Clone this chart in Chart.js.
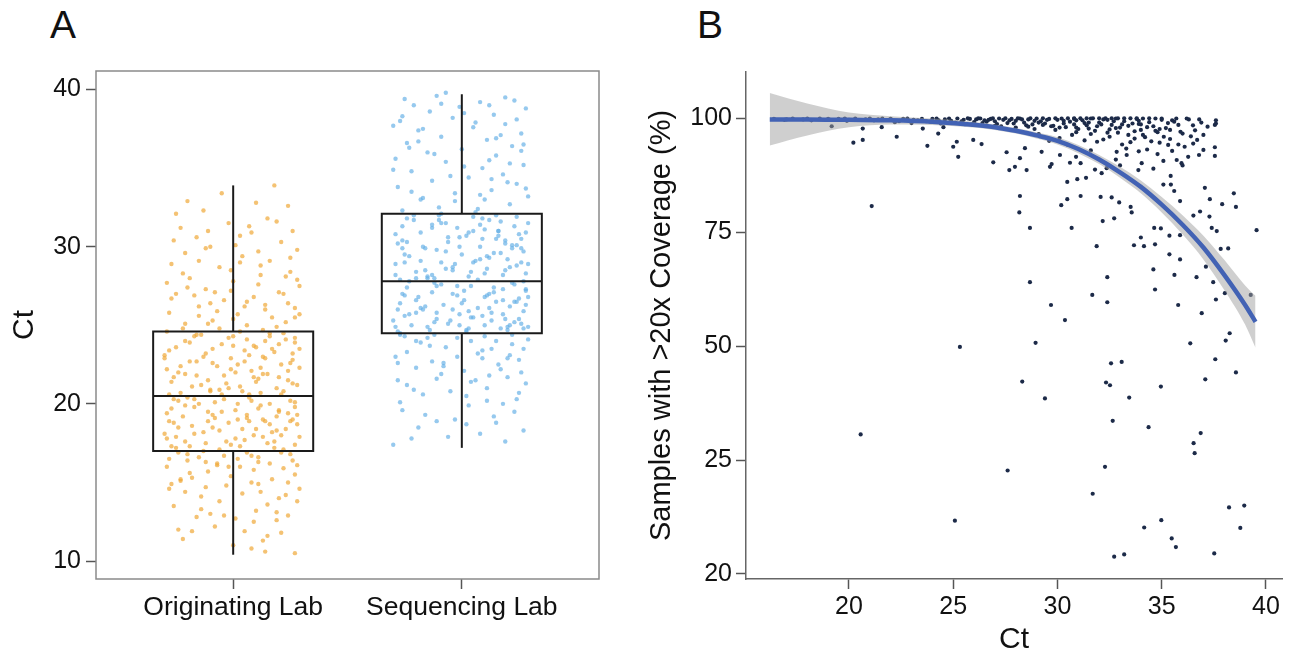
<!DOCTYPE html>
<html>
<head>
<meta charset="utf-8">
<script src="https://cdn.jsdelivr.net/npm/chart.js@4"></script>
<style>
  body { margin: 0; background: #fff; width: 1292px; height: 657px; overflow: hidden; position: relative; font-family: "Liberation Sans", Arial, sans-serif; }
  .panel { position: absolute; top: 0; }
  .tag { position: absolute; top: 5px; font-size: 39px; line-height: 1; color: #111; }
</style>
</head>
<body>
<div class="tag" style="left:50px">A</div>
<div class="tag" style="left:697px">B</div>
<div class="panel" style="left:0"><canvas id="boxChart" width="640" height="657"></canvas></div>
<div class="panel" style="left:640px"><canvas id="ctChart" width="652" height="657"></canvas></div>
<script>
Chart.defaults.font.family = '"Liberation Sans", Arial, sans-serif';
Chart.defaults.color = '#111';

// ---- Panel A: Ct by lab ----
const labs = ['Originating Lab', 'Sequencing Lab'];
const boxLow = [10.4, 17.2];
const boxQ1 = [17.0, 24.5];
const boxMedian = [20.5, 27.8];
const boxQ3 = [24.6, 32.1];
const boxHigh = [33.9, 39.7];
const ctTicks = [10, 20, 30, 40];

// [jitter in % of a category, Ct]
const originatingPoints = [
  [-22,11.4],[14,10.6],[27,10.5],[-8,12.2],[5,11.9],[19,12.6],[-26,13.5],[-14,14.1],[10,13.2],[24,12.9],
  [-3,14.8],[-18,15.3],[8,15.0],[29,14.6],[-29,16.0],[-11,15.7],[16,16.2],[2,16.5],[-20,16.8],[22,15.9],
  [-6,13.8],[12,14.4],[-24,12.0],[26,16.4],[-15,16.6],[6,16.9],[-1,15.4],[20,14.0],[-27,14.9],[13,11.3],
  [-10,13.0],[28,13.8],[-19,15.6],[3,16.0],[17,15.2],[-12,16.3],[25,16.8],[-4,16.7],[9,12.5],[-23,15.1],
  [0,11.0],[-16,12.8],[21,11.8],[-28,16.5],[11,16.6],[-7,16.2],[15,13.6],[-21,14.4],[27,15.5],[4,14.3],
  [-25,17.2],[-12,17.5],[3,17.3],[18,17.6],[29,17.9],[-30,18.1],[-6,18.3],[9,18.0],[23,18.4],[-18,18.6],
  [-2,18.8],[14,18.9],[26,19.0],[-22,19.2],[-9,19.3],[6,19.1],[20,19.5],[-27,19.7],[1,19.6],[12,19.9],
  [-15,20.0],[27,20.1],[-4,20.3],[8,20.2],[-20,20.4],[16,20.0],[-29,17.8],[22,17.1],[-11,18.9],[5,17.7],
  [-24,18.5],[10,18.4],[-1,17.4],[19,19.2],[-17,19.8],[28,18.7],[-8,20.1],[13,17.9],[-26,20.3],[24,19.4],
  [-13,17.0],[2,19.0],[17,18.2],[-21,17.6],[7,20.4],[-5,19.5],[25,20.2],[-28,18.9],[11,19.7],[21,18.0],
  [-23,20.7],[-10,20.9],[4,20.8],[19,21.0],[28,21.2],[-27,21.4],[-3,21.3],[11,21.6],[24,21.5],[-16,21.8],
  [1,22.0],[15,21.9],[-29,22.2],[-7,22.4],[8,22.1],[21,22.5],[-19,22.7],[26,22.8],[-1,22.9],[13,23.0],
  [-12,23.2],[5,23.4],[18,23.3],[-25,23.6],[29,23.5],[-5,23.8],[9,23.7],[-21,24.0],[23,24.1],[0,24.3],
  [-14,24.4],[16,24.5],[-28,20.6],[7,20.6],[-9,22.6],[27,23.9],[-18,21.1],[12,22.3],[-2,24.2],[20,21.7],
  [-24,22.0],[3,21.1],[14,24.0],[-11,21.5],[25,22.6],[-30,23.1],[10,23.6],[-6,20.9],[22,20.8],[-17,24.3],
  [-22,24.8],[6,25.0],[19,24.9],[-9,25.3],[27,25.5],[-28,25.8],[2,25.7],[14,26.0],[-15,26.2],[24,26.4],
  [-4,26.6],[9,26.8],[-25,27.0],[20,27.1],[-12,27.3],[29,27.5],[0,27.8],[-19,28.0],[12,28.2],[25,28.4],
  [-6,28.7],[-27,28.9],[16,29.1],[4,29.4],[-21,29.6],[28,29.8],[-10,30.0],[21,30.3],[-16,30.6],[8,30.9],
  [-23,31.2],[26,31.0],[-2,31.5],[15,31.8],[-13,32.3],[24,32.6],[-20,32.9],[18,33.9],[11,27.6],[-7,25.9],
  [23,25.2],[-17,26.9],[3,29.0],[-26,30.4],[13,24.7],[-1,28.5],[27,26.1],[-11,25.1],[7,31.3],[-29,27.7],
  [-27,17.3],[-13,18.2],[1,17.8],[16,18.7],[28,19.3],[-21,19.9],[-5,20.6],[10,21.4],[24,22.1],[-30,22.9],
  [-9,23.5],[6,24.1],[20,19.6],[-24,20.2],[-2,21.0],[13,21.9],[26,23.2],[-16,24.4],[4,18.4],[18,17.2],
  [-7,16.1],[-23,15.2],[9,15.8],[23,14.2],[-14,13.3],[1,12.7],[15,11.6],[-28,14.6],[27,17.4],[-11,19.5],
  [5,22.7],[-19,23.9],[21,20.6],[-3,17.6],[12,20.7],[-26,21.7],[29,22.3],[-8,19.1],[7,23.1],[-17,18.1],
  [14,26.3],[-1,27.2],[-22,28.3],[25,29.3],[-12,29.9],[3,30.7],[19,31.6],[-25,32.1],[10,32.8],[-5,33.4],
  [-29,24.6],[17,25.5],[-15,25.6],[6,26.5],[28,27.9],[-20,27.4],[0,25.4],[22,27.0],[-10,26.4],[11,29.7],
  [-26,18.8],[-14,21.2],[2,22.5],[17,23.5],[27,24.2],[-20,16.4],[-6,17.1],[8,16.7],[21,16.9],[-29,19.4],
  [-10,20.8],[6,19.3],[19,18.3],[-23,22.4],[0,23.7],[14,22.9],[26,21.3],[-17,20.3],[3,24.6],[16,24.3],
  [-12,14.7],[11,14.9],[-25,17.9],[24,15.0],[-4,12.9],[19,13.1],[-18,11.9],[8,10.8],[-2,16.0],[28,16.1],
  [-27,26.7],[12,28.8],[-8,27.1],[23,28.1],[-15,29.1],[5,26.2],[-21,25.1],[29,25.7],[1,30.1],[-11,31.0],
  [-9,18.5],[13,19.0],[-21,21.9],[25,18.9],[-4,21.8],[9,21.7],[-16,22.7],[20,23.8],[-28,23.4],[2,20.0],
  [15,17.5],[-6,24.8],[27,19.8],[-19,17.3],[7,18.9],[-13,23.0],[22,24.5],[-1,22.2],[11,16.3],[-24,16.9]
];

const sequencingPoints = [
  [-30,17.4],[-22,17.8],[19,17.6],[8,18.1],[27,18.3],[-11,18.9],[14,19.2],[-26,19.6],[3,19.9],[24,20.3],
  [-17,20.6],[-5,20.8],[11,21.0],[28,21.3],[-28,21.5],[20,21.7],[-9,21.9],[1,22.1],[-20,22.3],[16,22.5],
  [-13,22.7],[25,22.8],[-2,23.0],[7,23.2],[-24,23.3],[13,23.5],[-7,23.6],[22,23.8],[-18,23.9],[4,24.0],
  [29,24.1],[-15,24.2],[10,24.3],[-27,24.4],[18,20.0],[-3,19.0],[26,22.0],[-21,20.9],[6,21.5],[-12,24.4],
  [23,19.5],[-29,23.0],[15,24.0],[-8,22.4],[2,20.5],[-19,18.5],[21,23.1],[9,22.9],[-25,24.3],[12,21.8],
  [-28,24.6],[-14,24.7],[2,24.6],[17,24.8],[29,24.9],[-22,25.0],[-6,25.1],[10,25.0],[23,25.2],[-30,25.3],
  [-11,25.4],[5,25.5],[19,25.4],[-25,25.6],[-1,25.7],[13,25.8],[27,25.9],[-17,26.0],[7,26.1],[21,26.2],
  [-8,26.3],[-27,26.4],[15,26.5],[1,26.6],[25,26.7],[-19,26.8],[11,26.9],[-4,27.0],[-13,27.1],[28,27.2],
  [18,27.3],[-24,27.4],[4,27.5],[-9,27.6],[22,27.7],[-29,24.9],[9,25.6],[-16,26.2],[26,25.1],[-2,26.9],
  [14,27.4],[-20,25.8],[3,24.8],[24,26.5],[-12,27.7],[20,24.7],[-26,27.0],[12,26.1],[-5,25.3],[29,26.8],
  [-27,27.9],[-12,28.0],[3,28.1],[18,28.2],[28,28.3],[-20,28.4],[-4,28.5],[11,28.6],[24,28.8],[-29,28.9],
  [-9,29.0],[6,29.1],[20,29.2],[-23,29.4],[0,29.5],[14,29.6],[27,29.7],[-16,29.9],[8,30.0],[22,30.1],
  [-6,30.3],[-26,30.4],[15,30.5],[2,30.7],[25,30.8],[-18,30.9],[10,31.1],[-2,31.2],[-13,31.4],[29,31.5],
  [17,31.6],[-24,31.8],[5,31.9],[-10,32.0],[21,28.7],[-28,30.2],[12,29.3],[-15,28.1],[26,29.9],[-1,30.6],
  [16,31.0],[-21,31.7],[4,28.4],[23,31.3],[-11,29.8],[19,30.4],[-25,29.0],[9,31.8],[-7,28.6],[28,30.9],
  [-26,32.3],[-10,32.5],[7,32.4],[21,32.7],[-18,33.0],[29,33.2],[-3,33.4],[13,33.6],[-28,33.8],[24,34.0],
  [-13,34.2],[3,34.4],[18,34.6],[-22,34.8],[9,35.0],[27,35.2],[-7,35.4],[-29,35.6],[15,35.8],[-15,36.0],
  [0,36.2],[22,36.4],[-24,36.6],[11,36.8],[-9,37.0],[26,37.2],[-19,37.4],[5,37.6],[19,37.8],[-27,38.0],
  [-4,38.2],[14,38.4],[-14,38.6],[28,38.8],[-21,39.0],[8,39.2],[-25,39.4],[-11,39.6],[23,39.3],[-7,39.8],
  [26,36.1],[-17,33.1],[1,35.1],[17,37.1],[-30,37.7],[10,33.0],[-1,38.9],[20,34.1],[-23,36.3],[12,39.0],
  [-27,24.5],[-12,25.2],[3,25.9],[18,26.6],[28,27.3],[-20,28.0],[-4,28.7],[11,29.4],[24,30.1],[-29,30.8],
  [-9,31.5],[6,32.2],[20,24.9],[-23,25.7],[0,26.4],[14,27.1],[27,27.8],[-16,28.5],[8,29.2],[22,29.9],
  [-6,30.6],[-26,31.3],[15,32.0],[2,24.7],[25,25.4],[-18,26.1],[10,26.8],[-2,27.5],[-13,28.2],[29,28.9],
  [17,29.6],[-24,30.3],[5,31.0],[-10,31.7],[21,25.0],[-28,26.0],[12,27.0],[-15,28.0],[26,29.0],[-1,30.0],
  [16,31.0],[-21,32.0],[4,25.5],[23,26.5],[-11,27.5],[19,28.5],[-25,29.5],[9,30.5],[-7,31.5],[28,26.3],
  [-22,33.5],[-5,34.5],[12,35.5],[27,36.5],[-17,37.5],[1,38.5],[19,39.5],[-30,34.9],[8,33.3],[24,38.1],
  [-12,35.9],[15,36.9],[-26,38.3],[-3,32.9],[21,35.3],[-19,36.7],[6,37.9],[28,33.7],[-9,39.1],[13,34.3],
  [-24,21.2],[-8,22.6],[9,23.4],[25,20.7],[-16,19.3],[2,18.7],[17,22.2],[-28,22.6],[-2,24.2],[22,24.4],
  [-14,23.7],[11,20.2],[-20,24.0],[27,23.5],[4,21.4],[-6,17.9],[15,18.8],[-27,20.1],[20,22.9],[-11,21.6],
  [-25,26.9],[13,25.3],[-7,29.7],[24,31.9],[-18,29.1],[7,27.9],[-1,25.0],[19,30.2],[-13,31.2],[27,24.8],
  [-29,28.2],[3,30.9],[-20,26.6],[10,28.3],[-4,26.0],[23,27.6],[-15,24.9],[16,30.7],[-9,32.1],[1,27.2],
  [-23,27.8],[26,30.5],[-11,25.8],[8,31.4],[-26,29.9],[18,25.7],[-3,28.9],[12,31.7],[-17,30.0],[5,29.0]
];

// ---- Panel B: coverage vs Ct ----
const coverageTickValues = [0, 25, 50, 75, 100];
const coverageTickLabels = ['20', '25', '50', '75', '100'];
const ctAxisTicks = [20, 25, 30, 35, 40];

// [Ct, coverage]
const samplePoints = [
  [16.4,99.8],[16.9,99.6],[17.3,99.9],[17.8,99.7],[18.2,99.5],[18.6,99.9],[19.1,99.6],[19.5,99.8],[19.9,99.4],[20.3,99.9],
  [20.8,99.7],[21.2,99.5],[21.6,99.9],[22.0,99.8],[22.4,99.3],[22.8,99.9],[23.1,99.6],[23.5,99.8],[23.9,99.2],[24.2,99.9],
  [24.6,99.7],[24.9,99.4],[25.2,99.9],[25.5,99.6],[25.8,99.8],[26.0,99.1],[26.3,99.9],[26.5,99.5],[26.8,99.8],[27.0,99.3],
  [27.2,99.9],[27.4,99.6],[27.6,98.9],[27.8,99.8],[28.0,99.4],[28.2,99.9],[28.4,99.0],[28.6,99.7],[28.8,98.6],[29.0,99.9],
  [29.2,99.3],[29.4,98.8],[29.6,99.8],[29.8,98.3],[30.0,99.6],[30.2,99.9],[30.4,98.0],[30.6,99.2],[30.8,99.8],[31.0,97.6],
  [31.2,99.5],[31.4,98.4],[31.6,99.9],[31.8,97.2],[32.0,99.0],[32.2,99.7],[32.4,96.8],[32.6,98.5],[32.8,99.9],[33.0,97.9],
  [33.2,99.3],[33.4,96.3],[33.6,98.8],[33.8,99.8],[34.0,97.4],[34.2,95.8],[34.4,99.1],[34.6,98.2],[34.8,96.9],[35.0,99.6],
  [35.2,97.8],[35.4,95.4],[35.6,99.2],[35.8,98.5],[36.0,96.6],[36.3,99.7],[36.6,97.3],[36.9,99.0],[37.2,98.1],[37.6,99.5],
  [26.9,99.95],[27.5,99.95],[28.1,99.95],[28.7,99.95],[29.3,99.95],[29.9,99.95],[30.5,99.95],[31.1,99.95],[31.7,99.95],[32.3,99.95],
  [32.9,99.95],[33.5,99.95],[34.1,99.9],[34.7,99.9],[30.3,99.4],[31.5,99.0],[32.7,99.3],[33.9,98.7],[29.5,99.6],[28.3,99.7],
  [29.1,96.5],[30.1,95.6],[30.9,96.9],[31.9,94.8],[32.5,95.9],[33.1,94.2],[33.7,95.5],[34.3,93.1],[34.9,94.6],[35.5,92.8],
  [36.1,93.7],[36.7,95.2],[33.3,93.3],[31.3,95.1],
  [17.0,99.7],[18.0,99.9],[19.0,99.8],[20.0,99.6],[21.0,99.9],[21.9,99.6],[22.6,99.8],[23.3,99.5],[24.0,99.8],[24.8,99.9],
  [25.4,99.3],[26.1,99.7],[26.6,99.2],[27.1,98.7],[27.7,99.5],[28.5,98.4],[29.1,99.0],[29.7,98.2],[30.3,98.8],[30.9,97.9],
  [31.3,98.9],[31.9,98.2],[32.5,97.5],[33.1,98.6],[33.7,97.1],[34.3,98.0],[34.9,97.6],[35.3,98.9],[35.9,97.0],[36.5,98.4],
  [37.0,96.3],[25.7,99.95],[26.2,99.95],[30.8,99.95],[31.4,99.95],[32.0,99.95],[32.6,99.95],[33.2,99.95],[33.8,99.95],[34.4,99.95],
  [35.0,99.9],[35.7,99.9],[36.2,99.9],[36.8,99.7],[29.9,97.4],[30.7,96.3],[31.6,96.5],[32.2,95.3],[32.9,96.8],[33.5,94.7],
  [34.1,96.3],[34.5,94.9],[35.1,95.9],[35.8,94.2],[36.4,96.0],[37.0,93.0],[34.8,92.1],[33.9,92.7],[32.8,90.9],[31.6,92.9],
  [30.5,94.1],[29.6,95.0],[28.9,97.6],[28.0,97.9],[27.3,98.2],[36.0,89.6],[34.6,88.9],[33.0,89.6],[31.8,88.7],[30.6,90.2],
  [22.2,99.1],[23.0,98.9],[23.7,99.3],[24.4,98.8],[25.1,99.0],[25.9,98.6],[26.4,98.9],[27.0,98.3],[27.9,98.8],[28.6,98.1],
  [29.3,98.5],[30.1,97.9],[30.8,98.6],[31.5,97.7],[32.1,98.6],[32.8,97.8],[33.4,98.3],[34.0,98.6],[34.7,97.2],[35.4,97.4],
  [26.7,99.6],[28.9,99.4],[30.9,99.5],[32.4,99.6],[33.9,99.4],[35.5,99.5],[24.3,99.5],[22.9,99.4],[21.4,99.7],[19.8,99.9],
  [20.21,94.6],[20.66,95.2],[21.09,80.7],[22.29,95.9],[23.76,93.9],[25.0,93.7],[25.17,94.8],[25.24,91.5],[24.28,96.6],[20.66,97.7],
  [19.17,98.2],[21.57,98.0],[23.54,97.7],[24.53,98.0],
  [25.96,95.2],[26.36,94.3],[26.92,90.3],[27.69,88.6],[27.96,89.3],[28.52,88.6],[28.2,91.2],[27.56,92.5],[28.44,93.4],[29.24,92.6],
  [29.72,89.9],[28.2,82.9],[28.17,79.3],[28.68,75.9],[30.47,86.0],[30.95,86.6],[31.37,86.9],[30.18,80.9],[30.47,82.2],[31.11,82.9],
  [30.68,75.9],[31.88,71.9],[32.07,82.7],[32.17,77.4],[32.72,78.0],[32.6,82.6],[32.96,81.5],[33.51,80.5],[33.56,79.3],[33.67,72.1],
  [34.15,71.9],[34.0,73.8],[34.68,72.3],[34.64,75.9],[34.96,75.8],[34.6,66.8],[34.68,62.4],[35.37,70.1],[35.61,65.6],[35.88,69.0],
  [35.88,74.3],[35.37,74.2],[35.79,59.0],[35.88,81.8],[35.08,85.4],[35.44,85.4],[35.6,84.0],[36.52,78.6],[36.84,79.5],[37.29,78.4],
  [37.4,75.9],[37.64,75.2],[37.31,82.2],[37.9,81.1],[38.46,83.5],[38.56,80.5],[37.07,84.7],[37.83,71.3],[38.19,71.4],[37.12,67.4],
  [36.67,65.1],[36.92,57.2],[37.6,60.2],[38.03,61.6],[37.47,64.0],[39.55,75.4],[37.55,98.5],[37.6,98.8],[37.55,93.6],[37.55,91.7],
  [36.79,91.9],[35.72,90.8],[35.08,90.6],[35.43,87.3],[35.95,90.1],[36.27,91.5],[36.51,94.4],[35.31,94.1],[34.04,90.1],[33.88,88.6],
  [33.32,91.9],[32.84,92.6],[32.36,89.0],[32.12,87.9],[31.11,90.1],[30.89,91.5],[30.12,91.9],[29.64,89.3],
  [28.68,64.0],[29.69,59.0],[30.36,55.7],[31.67,61.2],[32.39,65.1],[32.39,59.6],[39.27,61.2],
  [25.32,49.8],[28.95,50.7],[28.31,42.2],[29.4,38.5],[27.61,22.7],[32.57,46.2],[33.08,46.5],[32.33,42.0],[32.52,41.4],[33.44,38.7],
  [32.65,33.6],[32.28,23.5],[31.69,17.6],[34.96,41.1],[34.37,32.2],[34.16,10.2],[34.98,11.8],[35.48,7.8],[35.68,5.9],[32.72,3.8],
  [33.2,4.3],[36.37,50.6],[38.07,51.2],[38.26,52.8],[37.57,47.1],[37.09,42.7],[38.56,44.2],[36.87,30.9],[36.53,28.7],[36.58,26.5],
  [38.23,14.6],[38.96,15.0],[38.77,10.1],[37.52,4.5],[20.56,30.6],[25.08,11.7]
];

// smoothed fit and its confidence band
const fitCt = [16.2, 18, 20, 22, 24, 25.5, 27, 28, 29, 30, 31, 32, 33, 34, 35, 36, 37, 38, 39, 39.5];
const fitCoverage = [99.7, 99.7, 99.6, 99.5, 99.2, 98.7, 98.0, 97.2, 96.2, 95.0, 93.2, 90.9, 88.1, 84.9, 81.0, 76.6, 71.6, 65.6, 59.0, 55.3];
const bandUpper = [105.5, 103.2, 101.2, 100.4, 99.9, 99.4, 98.6, 97.8, 96.9, 95.8, 94.1, 91.9, 89.3, 86.3, 82.7, 78.7, 74.2, 68.9, 63.3, 61.0];
const bandLower = [94.0, 96.2, 98.0, 98.6, 98.5, 98.1, 97.4, 96.6, 95.5, 94.2, 92.3, 89.9, 86.9, 83.5, 79.3, 74.5, 69.0, 62.3, 54.7, 49.6];

// frame around the plot area of panel A
const framePlugin = {
  id: 'frame',
  afterDatasetsDraw(chart) {
    const a = chart.chartArea, ctx = chart.ctx;
    ctx.save();
    ctx.strokeStyle = '#8a8a8a';
    ctx.lineWidth = 1.5;
    ctx.strokeRect(a.left, a.top, a.right - a.left, a.bottom - a.top);
    ctx.restore();
  }
};

const boxLines = [];
labs.forEach((lab, i) => {
  const c = i + 1, hw = 0.35;
  const line = data => ({ data, showLine: true, borderColor: '#1a1a1a', borderWidth: 2, pointRadius: 0, borderJoinStyle: 'miter' });
  boxLines.push(line([{x: c - hw, y: boxQ1[i]}, {x: c + hw, y: boxQ1[i]}, {x: c + hw, y: boxQ3[i]}, {x: c - hw, y: boxQ3[i]}, {x: c - hw, y: boxQ1[i]}, {x: c + hw, y: boxQ1[i]}]));
  boxLines.push(line([{x: c - hw, y: boxMedian[i]}, {x: c + hw, y: boxMedian[i]}]));
  boxLines.push(line([{x: c, y: boxLow[i]}, {x: c, y: boxQ1[i]}]));
  boxLines.push(line([{x: c, y: boxQ3[i]}, {x: c, y: boxHigh[i]}]));
});

const tickGrid = { display: true, drawOnChartArea: false, drawTicks: true, tickLength: 10, tickColor: '#555', tickWidth: 1.5 };

new Chart(document.getElementById('boxChart'), {
  type: 'scatter',
  data: {
    datasets: [
      ...boxLines,
      { data: originatingPoints.map(([dx, ct]) => ({x: 1 + dx / 100, y: ct})), pointRadius: 2.2, pointBorderWidth: 0, pointBackgroundColor: 'rgba(240,168,55,0.7)' },
      { data: sequencingPoints.map(([dx, ct]) => ({x: 2 + dx / 100, y: ct})), pointRadius: 2.2, pointBorderWidth: 0, pointBackgroundColor: 'rgba(100,175,230,0.68)' }
    ]
  },
  options: {
    responsive: false,
    animation: false,
    layout: { padding: { left: 0, right: 41, top: 71, bottom: 0 } },
    plugins: { legend: { display: false }, tooltip: { enabled: false } },
    scales: {
      x: {
        type: 'linear', min: 0.4, max: 2.6,
        afterBuildTicks: s => { s.ticks = labs.map((l, i) => ({ value: i + 1 })); },
        afterFit: s => { s.height = 78; },
        ticks: { callback: v => labs[v - 1], font: { size: 26.5 }, padding: 3, maxRotation: 0 },
        grid: tickGrid,
        border: { display: false }
      },
      y: {
        min: 8.855, max: 41.18,
        afterBuildTicks: s => { s.ticks = ctTicks.map(v => ({ value: v })); },
        afterFit: s => { s.width = 96; },
        ticks: { font: { size: 25 }, padding: 5 },
        grid: tickGrid,
        border: { display: false },
        title: { display: true, text: 'Ct', font: { size: 30, lineHeight: 1 }, padding: { top: 10, bottom: 0 } }
      }
    }
  },
  plugins: [framePlugin]
});

new Chart(document.getElementById('ctChart'), {
  type: 'scatter',
  data: {
    datasets: [
      { data: fitCt.map((c, i) => ({x: c, y: fitCoverage[i]})), showLine: true, borderColor: '#4262b4', borderWidth: 4.5, pointRadius: 0, cubicInterpolationMode: 'monotone' },
      { data: fitCt.map((c, i) => ({x: c, y: bandUpper[i]})), showLine: true, borderWidth: 0, pointRadius: 0, fill: '+1', backgroundColor: 'rgba(160,160,160,0.5)', cubicInterpolationMode: 'monotone' },
      { data: fitCt.map((c, i) => ({x: c, y: bandLower[i]})), showLine: true, borderWidth: 0, pointRadius: 0, cubicInterpolationMode: 'monotone' },
      { data: samplePoints.map(([c, v]) => ({x: c, y: v})), pointRadius: 2.1, pointBorderWidth: 0, pointBackgroundColor: '#1c2a48' }
    ]
  },
  options: {
    responsive: false,
    animation: false,
    layout: { padding: { left: 0, right: 10, top: 72, bottom: 0 } },
    plugins: { legend: { display: false }, tooltip: { enabled: false } },
    scales: {
      x: {
        min: 15.06, max: 40.77,
        afterBuildTicks: s => { s.ticks = ctAxisTicks.map(v => ({ value: v })); },
        afterFit: s => { s.height = 78; },
        ticks: { font: { size: 25 }, padding: 3, maxRotation: 0 },
        grid: tickGrid,
        border: { display: true, color: '#666', width: 1.5 },
        title: { display: true, text: 'Ct', font: { size: 30, lineHeight: 1 }, padding: { top: 0, bottom: 2 } }
      },
      y: {
        min: -1.1, max: 110.1,
        afterBuildTicks: s => { s.ticks = coverageTickValues.map(v => ({ value: v })); },
        afterFit: s => { s.width = 106; },
        ticks: { font: { size: 25 }, padding: 4, callback: v => coverageTickLabels[coverageTickValues.indexOf(v)] },
        grid: tickGrid,
        border: { display: true, color: '#666', width: 1.5 },
        title: { display: true, text: 'Samples with >20x Coverage (%)', font: { size: 29, lineHeight: 1 }, padding: { top: 7, bottom: 0 } }
      }
    }
  }
});
</script>
</body>
</html>
